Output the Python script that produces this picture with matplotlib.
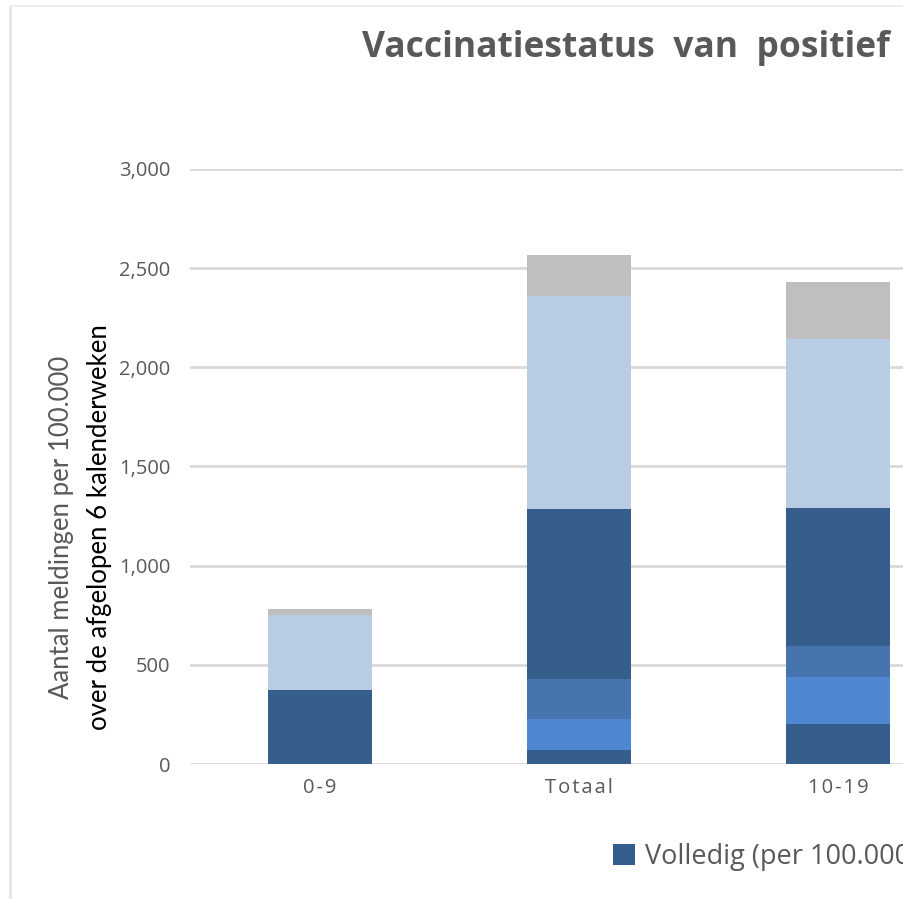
import matplotlib.pyplot as plt
from matplotlib.lines import Line2D
from matplotlib.ticker import FuncFormatter

# categories and stacked series (per 100.000)
categories = ["0-9", "Totaal", "10-19"]
series_names = ["Volledig (per 100.000)", "Serie 2", "Serie 3", "Serie 4", "Serie 5", "Serie 6"]
volledig = [0, 70, 202]
serie2 = [0, 157, 237]
serie3 = [0, 202, 156]
serie4 = [373, 857, 696]
serie5 = [378, 1074, 852]
serie6 = [31, 207, 287]
colors = ["#365E8D", "#4F88D0", "#4574AE", "#365E8D", "#B8CCE4", "#BFBFBF"]

FONT = ["Open Sans", "DejaVu Sans"]
HAIR = "\u200a"


def spaced(s):
    # slight letter spacing like the original
    return HAIR.join(s)


W, H = 904, 899
fig = plt.figure(figsize=(W / 100, H / 100), dpi=100)
fig.patch.set_facecolor("white")

# faint frame of the original screenshot
fig.add_artist(Line2D([10 / W, 10 / W], [0, 1 - 6 / H], color="#E6E6E6", lw=2))
fig.add_artist(Line2D([10 / W, 1], [1 - 6 / H, 1 - 6 / H], color="#F0F0F0", lw=1.5))

ax = fig.add_axes([190 / W, 135 / H, (968 - 190) / W, (764 - 169) / H])
x = range(len(categories))
bottom = [0] * len(categories)
bars = []
for vals, col in zip([volledig, serie2, serie3, serie4, serie5, serie6], colors):
    b = ax.bar(x, vals, width=0.4, bottom=bottom, color=col, zorder=3)
    bars.append(b)
    bottom = [a + v for a, v in zip(bottom, vals)]

ax.set_xlim(-0.5, 2.5)
ax.set_ylim(0, 3000)
ax.set_yticks(range(0, 3001, 500))
ax.yaxis.set_major_formatter(FuncFormatter(lambda v, p: f"{int(v):,}"))
ax.set_xticks(list(x))
ax.set_xticklabels([spaced(c) for c in categories])
ax.grid(axis="y", color="#D9D9D9", lw=2, zorder=0)
for s in ax.spines.values():
    s.set_visible(False)
ax.tick_params(axis="both", length=0, colors="#595959")
ax.tick_params(axis="y", pad=14, labelsize=14.5)
ax.tick_params(axis="x", pad=10, labelsize=14.5)
for lab in ax.get_xticklabels() + ax.get_yticklabels():
    lab.set_family(FONT)

fig.text(362 / W, 1 - 48 / H, "Vaccinatiestatus  van  positief", fontsize=25.5,
         fontweight="bold", color="#595959", family=FONT, ha="left", va="center")

fig.text(62 / W, 1 - 527 / H, "Aantal meldingen per 100.000", rotation=90, fontsize=18.5,
         color="#595959", family="Lato", ha="center", va="center")
fig.text(100 / W, 1 - 527 / H, "over de afgelopen 6 kalenderweken", rotation=90, fontsize=18.5,
         color="black", family="Lato", ha="center", va="center")

# legend runs off the right edge, as in the cropped original
fig.legend(handles=[bars[0]], labels=[series_names[0]], loc="center left",
           bbox_to_anchor=(613 / W, 1 - 857 / H), frameon=False, handlelength=0.8,
           handleheight=0.8, handletextpad=0.4, borderaxespad=0, borderpad=0,
           prop={"family": FONT, "size": 19.5}, labelcolor="#595959")

fig.savefig("out.png", dpi=100)
